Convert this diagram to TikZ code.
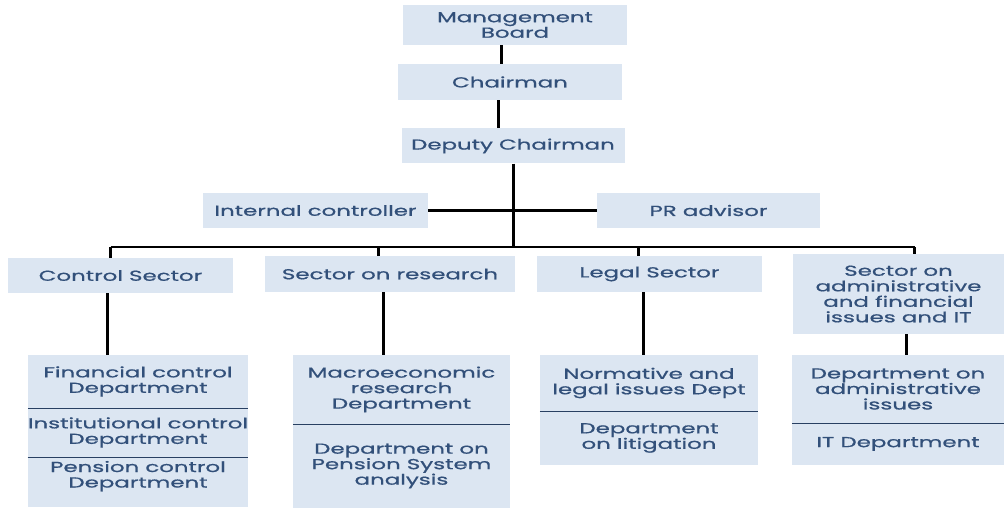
\documentclass[tikz,border=0pt]{standalone}
\usepackage{fontspec}
\setmainfont[FakeStretch=1.58, FakeBold=0.8]{Poppins}
\definecolor{boxfill}{HTML}{DCE6F2}
\definecolor{boxtext}{HTML}{32507A}
\tikzset{
    unit/.style={fill=boxfill, text=boxtext, align=center, inner sep=0pt,
        font=\fontsize{14.5}{15.5}\selectfont},
    link/.style={line width=3pt},
    bar/.style={line width=2.2pt},
    rule/.style={line width=1pt, draw=boxtext!80!black}
}

\begin{document}
\begin{tikzpicture}[x=1pt,y=-1pt]
    \useasboundingbox (0,0) rectangle (1004,510);

    % Draw nodes
    \node[unit, minimum width=224pt, minimum height=40pt] (mb) at (515,25) {Management\\Board};
    \node[unit, minimum width=224pt, minimum height=36pt] (ch) at (510,82) {Chairman};
    \node[unit, minimum width=223pt, minimum height=35pt] (dc) at (513,146) {Deputy Chairman};

    \node[unit, minimum width=225pt, minimum height=35pt] (ic) at (315.5,210.5) {Internal controller};
    \node[unit, minimum width=223pt, minimum height=35pt] (pr) at (708.5,210.5) {PR advisor};

    \node[unit, minimum width=225pt, minimum height=35pt] (cs) at (120.5,275.5) {Control Sector};
    \node[unit, minimum width=250pt, minimum height=36pt] (rs) at (390,274) {Sector on research};
    \node[unit, minimum width=225pt, minimum height=36pt] (ls) at (649.5,274) {Legal Sector};
    \node[unit, minimum width=211pt, minimum height=80pt] (as) at (898.5,294) {Sector on\\administrative\\and financial\\issues and IT};

    % Departments
    \node[unit, minimum width=220pt, minimum height=53pt] (cd1) at (138,381.5) {Financial control\\Department};
    \node[unit, minimum width=220pt, minimum height=49pt] (cd2) at (138,432.5) {Institutional control\\Department};
    \node[unit, minimum width=220pt, minimum height=50pt] (cd3) at (138,482) {Pension control\\Department\\ };

    \node[unit, minimum width=217pt, minimum height=69pt] (rd1) at (401.5,389.5) {Macroeconomic\\research\\Department};
    \node[unit, minimum width=217pt, minimum height=84pt] (rd2) at (401.5,466) {Department on\\Pension System\\analysis};

    \node[unit, minimum width=218pt, minimum height=56pt] (ld1) at (649,383) {Normative and\\legal issues Dept};
    \node[unit, minimum width=218pt, minimum height=54pt] (ld2) at (649,438) {Department\\on litigation};

    \node[unit, minimum width=212pt, minimum height=68pt] (ad1) at (898,389) {Department on\\administrative\\issues};
    \node[unit, minimum width=212pt, minimum height=42pt] (ad2) at (898,444) {IT Department};

    \coordinate (bus) at (512,247);

    % Draw connections
    \draw[link] ([xshift=-14pt]mb.south) -- ([xshift=-14pt]mb.south |- ch.north);
    \draw[link] ([xshift=-12pt]ch.south) -- ([xshift=-12pt]ch.south |- dc.north);
    \draw[link] (dc.south) -- (dc.south |- bus);
    \draw[bar] (ic.east) -- (pr.west);
    \draw[bar] ([xshift=-10pt]cs.north |- bus) -- ([xshift=16pt]as.north |- bus);
    \draw[link] ([xshift=-10pt]cs.north) -- ([xshift=-10pt]cs.north |- bus);
    \draw[link] ([xshift=-12pt]rs.north) -- ([xshift=-12pt]rs.north |- bus);
    \draw[link] ([xshift=-11pt]ls.north) -- ([xshift=-11pt]ls.north |- bus);
    \draw[link] ([xshift=16pt]as.north) -- ([xshift=16pt]as.north |- bus);

    \draw[link] ([xshift=-13pt]cs.south) -- ([xshift=-13pt]cs.south |- cd1.north);
    \draw[link] ([xshift=-7pt]rs.south) -- ([xshift=-7pt]rs.south |- rd1.north);
    \draw[link] ([xshift=-6pt]ls.south) -- ([xshift=-6pt]ls.south |- ld1.north);
    \draw[link] ([xshift=8pt]as.south) -- ([xshift=8pt]as.south |- ad1.north);

    % Separators
    \draw[rule] (cd1.south west) -- (cd1.south east);
    \draw[rule] (cd2.south west) -- (cd2.south east);
    \draw[rule] (rd1.south west) -- (rd1.south east);
    \draw[rule] (ld1.south west) -- (ld1.south east);
    \draw[rule] (ad1.south west) -- (ad1.south east);
\end{tikzpicture}
\end{document}
